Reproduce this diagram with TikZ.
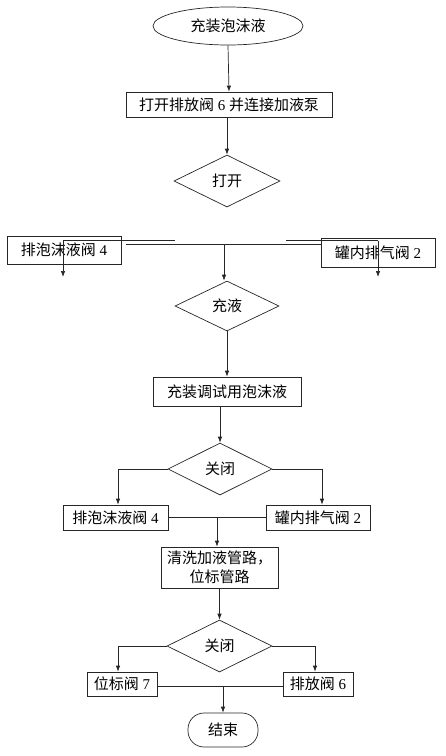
\documentclass[tikz,border=0pt]{standalone}
\usepackage{fontspec}
\setmainfont{Liberation Serif}
\newfontfamily\cjk{Noto Sans CJK SC}
\usetikzlibrary{shapes.geometric,arrows.meta}
\newcommand{\zh}[1]{{\cjk #1}}
\tikzset{
  base/.style={draw=black!85, line width=0.7pt, inner sep=0pt, align=center,
    font=\fontsize{15}{18.5}\selectfont},
  boxnode/.style={base, rectangle},
  ellnode/.style={base, ellipse},
  decnode/.style={base, diamond},
  termnode/.style={base, rectangle, rounded corners=16pt},
  line/.style={draw=black!85, line width=0.7pt},
  arr/.style={line, -{Latex[length=6pt,width=4.5pt]}},
}
\begin{document}
\begin{tikzpicture}[x=1pt,y=-1pt]
\useasboundingbox (0,0) rectangle (446,756);
\node[ellnode, minimum width=150pt, minimum height=38pt] (start) at (228,26) {\zh{充装泡沫液}};
\node[boxnode, minimum width=206pt, minimum height=25pt] (b1) at (229,104.5) {\zh{打开排放阀} 6 \zh{并连接加液泵}};
\node[decnode, minimum width=106pt, minimum height=52pt] (d1) at (227,181) {\zh{打开}};
\node[boxnode, minimum width=114pt, minimum height=28pt] (l1) at (64,250) {\zh{排泡沫液阀} 4};
\node[boxnode, minimum width=114pt, minimum height=29pt] (r1) at (378,252.5) {\zh{罐内排气阀} 2};
\node[decnode, minimum width=104pt, minimum height=50pt] (d2) at (227,306) {\zh{充液}};
\node[boxnode, minimum width=148pt, minimum height=29pt] (b2) at (227,391.5) {\zh{充装调试用泡沫液}};
\node[decnode, minimum width=104pt, minimum height=52pt] (d3) at (220,469) {\zh{关闭}};
\node[boxnode, minimum width=105pt, minimum height=25pt] (l2) at (115.5,517.5) {\zh{排泡沫液阀} 4};
\node[boxnode, minimum width=104pt, minimum height=25pt] (r2) at (318,517.5) {\zh{罐内排气阀} 2};
\node[boxnode, minimum width=117pt, minimum height=41pt] (b3) at (219.5,567.5) {\zh{清洗加液管路，}\\\zh{位标管路}};
\node[decnode, minimum width=105pt, minimum height=52pt] (d4) at (219.5,646) {\zh{关闭}};
\node[boxnode, minimum width=70pt, minimum height=24pt] (l3) at (122,684) {\zh{位标阀} 7};
\node[boxnode, minimum width=70pt, minimum height=24pt] (r3) at (318,684) {\zh{排放阀} 6};
\node[termnode, minimum width=70pt, minimum height=34pt] (end) at (223,730) {\zh{结束}};

% top part
\draw[arr] (start.south) -- (b1.north);
\draw[arr] (d1.north |- b1.south) -- (d1.north);

% odd junction lines below the first decision
\coordinate (la) at (63,240.5);
\coordinate (lb) at (175,240.5);
\coordinate (lo) at (63,277);
\coordinate (ma) at (126,244);
\coordinate (mid) at (224,244);
\coordinate (ra) at (286,240.5);
\coordinate (rb) at (378,240.5);
\coordinate (ro) at (378,277);
\draw[line] (la) -- (lb);
\draw[arr] (la) -- (lo);
\draw[line] (ma) -- (ma -| r1.west);
\draw[arr] (mid) -- (mid |- d2.north);
\draw[line] (ra) -- (rb);
\draw[arr] (rb) -- (ro);

\draw[arr] (d2.south) -- (b2.north);
\draw[arr] (d3.north |- b2.south) -- (d3.north);
\draw[arr] (d3.west) -| ([xshift=2.5pt]l2.north);
\draw[arr] (d3.east) -| ([xshift=4pt]r2.north);
\draw[line] (l2.east) -- (r2.west);
\draw[arr] ([xshift=-2.5pt]b3.north |- l2.east) -- ([xshift=-2.5pt]b3.north);
\draw[arr] (b3.south) -- (d4.north);
\draw[arr] (d4.west) -| ([xshift=-4pt]l3.north);
\draw[arr] (d4.east) -| ([xshift=-3pt]r3.north);
\coordinate (bl) at ([yshift=-2pt]l3.east);
\draw[line] (bl) -- (bl -| r3.west);
\draw[arr] (end.north |- bl) -- (end.north);
\end{tikzpicture}
\end{document}
